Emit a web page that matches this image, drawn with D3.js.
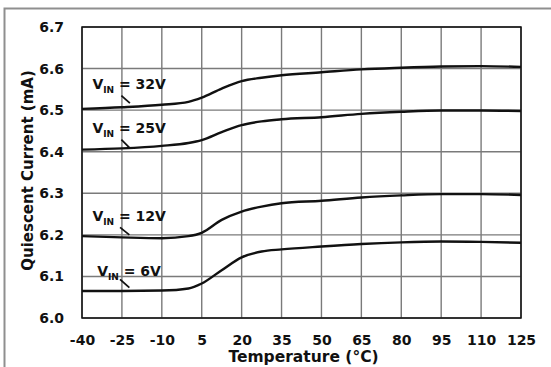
<!DOCTYPE html>
<html>
<head>
<meta charset="utf-8">
<script src="https://cdn.jsdelivr.net/npm/d3@7"></script>
<style>
  html, body { margin: 0; padding: 0; background: #fff; }
  svg { display: block; }
  text { font-family: "DejaVu Sans", sans-serif; font-weight: bold; fill: #111; }
</style>
</head>
<body>
<svg id="chart" width="551" height="367"></svg>
<script>
// ---- data ----
const temps = [-40, -25, -10, 0, 5, 12.5, 20, 27.5, 35, 50, 65, 80, 95, 110, 125];
const vin32 = [6.503, 6.507, 6.513, 6.520, 6.530, 6.552, 6.570, 6.578, 6.584, 6.591, 6.598, 6.602, 6.605, 6.606, 6.604];
const vin25 = [6.405, 6.408, 6.414, 6.421, 6.428, 6.447, 6.464, 6.473, 6.478, 6.483, 6.491, 6.496, 6.499, 6.499, 6.498];
const vin12 = [6.197, 6.194, 6.192, 6.197, 6.205, 6.236, 6.256, 6.268, 6.276, 6.282, 6.290, 6.295, 6.298, 6.298, 6.296];
const vin6  = [6.065, 6.065, 6.066, 6.071, 6.083, 6.115, 6.146, 6.160, 6.165, 6.172, 6.178, 6.182, 6.184, 6.183, 6.181];
const xTicks = [-40, -25, -10, 5, 20, 35, 50, 65, 80, 95, 110, 125];
const yTicks = [6.0, 6.1, 6.2, 6.3, 6.4, 6.5, 6.6, 6.7];
const seriesLabels = ["32V", "25V", "12V", "6V"];
// label anchor (temp, value) and leader start/end (temp, value)
const labelPos = [[-36.1, 6.551], [-36.1, 6.445], [-36.1, 6.233], [-34.3, 6.101]];
const leaderFrom = [[-25.2, 6.535], [-25.2, 6.429], [-25.7, 6.218], [-25.7, 6.093]];
const leaderTo   = [[-22.0, 6.517], [-22.2, 6.410], [-22.2, 6.200], [-22.2, 6.073]];

// ---- layout ----
const svg = d3.select("#chart");
const m = { left: 82, top: 27, right: 30, bottom: 49 };
const W = 551, H = 367;
const x = d3.scaleLinear().domain([-40, 125]).range([m.left, W - m.right]);
const y = d3.scaleLinear().domain([6.0, 6.7]).range([H - m.bottom, m.top]);

// outer frame (top & left)
svg.append("path")
  .attr("d", `M4.5,367 L4.5,8.5 L551,8.5`)
  .attr("fill", "none").attr("stroke", "#8f8f8f").attr("stroke-width", 2);

// gridlines
const grid = svg.append("g");
grid.selectAll("line.v").data(xTicks).join("line")
  .attr("x1", d => x(d)).attr("x2", d => x(d))
  .attr("y1", y(6.0)).attr("y2", y(6.7))
  .attr("stroke", "#7a7a7a").attr("stroke-width", 1.4);
grid.selectAll("line.h").data(yTicks).join("line")
  .attr("y1", d => y(d)).attr("y2", d => y(d))
  .attr("x1", x(-40)).attr("x2", x(125))
  .attr("stroke", "#7a7a7a").attr("stroke-width", 1.4);

// plot border
svg.append("rect")
  .attr("x", x(-40)).attr("y", y(6.7))
  .attr("width", x(125) - x(-40)).attr("height", y(6.0) - y(6.7))
  .attr("fill", "none").attr("stroke", "#111").attr("stroke-width", 1.5);

// axes
const xAxis = svg.append("g")
  .attr("transform", `translate(0,${y(6.0)})`)
  .call(d3.axisBottom(x).tickValues(xTicks).tickSize(0).tickPadding(17).tickFormat(d => String(d)));
xAxis.select(".domain").remove();
xAxis.selectAll("text").style("font-size", "14px").style("font-family", "DejaVu Sans").style("font-weight", "bold").attr("fill", "#111");

const yAxis = svg.append("g")
  .attr("transform", `translate(${x(-40)},0)`)
  .call(d3.axisLeft(y).tickValues(yTicks).tickSize(0).tickPadding(18).tickFormat(d => d.toFixed(1)));
yAxis.select(".domain").remove();
yAxis.selectAll("text").style("font-size", "14px").style("font-family", "DejaVu Sans").style("font-weight", "bold").attr("fill", "#111");

// axis titles
svg.append("text")
  .attr("x", (x(-40) + x(125)) / 2 + 2).attr("y", 361.5)
  .attr("text-anchor", "middle").style("font-size", "15.5px")
  .text("Temperature (°C)");
svg.append("text")
  .attr("transform", `translate(33,${(y(6.0) + y(6.7)) / 2 - 2}) rotate(-90)`)
  .attr("text-anchor", "middle").style("font-size", "15px")
  .text("Quiescent Current (mA)");

// curves
const line = d3.line().x(d => x(d[0])).y(d => y(d[1])).curve(d3.curveMonotoneX);
const series = [vin32, vin25, vin12, vin6];
svg.append("g").selectAll("path").data(series).join("path")
  .attr("d", s => line(temps.map((t, i) => [t, s[i]])))
  .attr("fill", "none").attr("stroke", "#111").attr("stroke-width", 2.4);

// leaders
svg.append("g").selectAll("line").data(seriesLabels).join("line")
  .attr("x1", (d, i) => x(leaderFrom[i][0])).attr("y1", (d, i) => y(leaderFrom[i][1]))
  .attr("x2", (d, i) => x(leaderTo[i][0])).attr("y2", (d, i) => y(leaderTo[i][1]))
  .attr("stroke", "#111").attr("stroke-width", 1.8);

// labels
const lab = svg.append("g").selectAll("text").data(seriesLabels).join("text")
  .attr("x", (d, i) => x(labelPos[i][0])).attr("y", (d, i) => y(labelPos[i][1]))
  .style("font-size", "14px");
lab.append("tspan").text("V");
lab.append("tspan").attr("dy", 4).style("font-size", "9px").text("IN");
lab.append("tspan").attr("dy", -4).text(d => " = " + d);
</script>
</body>
</html>
